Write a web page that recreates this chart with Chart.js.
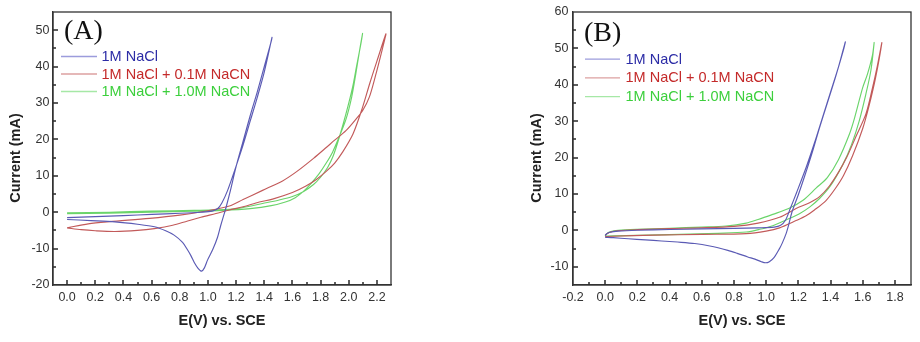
<!DOCTYPE html>
<html><head><meta charset="utf-8">
<script src="https://cdn.jsdelivr.net/npm/chart.js@4.4.0/dist/chart.umd.min.js"></script>
<style>
html,body{margin:0;padding:0;background:#fff;}
#wrap{position:relative;width:920px;height:342px;overflow:hidden;background:#fff;}
#ca{position:absolute;left:0;top:0;}
#cb{position:absolute;left:460px;top:0;}
</style></head><body>
<div id="wrap"><canvas id="ca" width="460" height="342"></canvas><canvas id="cb" width="460" height="342"></canvas></div>
<script>
// ---------- series labels ----------
const SERIES_LABELS = ['1M NaCl', '1M NaCl + 0.1M NaCN', '1M NaCl + 1.0M NaCN'];

// ---------- Panel (A) : potential (V) and current (mA), forward then reverse scan ----------
const A_NACL_V = [0,0.1,0.2,0.4,0.6,0.8,0.95,1.03,1.07,1.1,1.14,1.19,1.25,1.3,1.35,1.4,1.455,
  1.45,1.4,1.35,1.3,1.25,1.2,1.16,1.13,1.116,1.09,1.069,1.035,0.998,0.975,0.955,0.93,0.903,0.88,0.856,0.82,0.76,0.7,0.62,0.5,0.34,0.17,0];
const A_NACL_I = [-1.5,-1.35,-1.2,-0.95,-0.6,-0.3,0.0,0.3,1.0,2.6,6.0,11.5,18.5,25,31.5,38.5,48,
  47,40,33,26.5,19.5,12.5,6.0,1.5,-0.4,-3.8,-6.8,-10.2,-13.1,-15.3,-16.2,-15.4,-13.8,-12.0,-10.4,-8.3,-6.3,-5.1,-4.0,-3.3,-2.65,-2.3,-2.0];

const A_CN01_V = [0,0.1,0.2,0.34,0.5,0.62,0.75,0.856,0.95,1.057,1.152,1.25,1.365,1.459,1.6,1.696,1.77,1.84,1.9,1.956,2.03,2.098,2.15,2.2,2.264,
  2.23,2.19,2.146,2.1,2.05,1.98,1.9,1.838,1.75,1.625,1.53,1.388,1.25,1.152,1.0,0.8,0.585,0.3,0.15,0];
const A_CN01_I = [-4.3,-4.8,-5.1,-5.3,-5.0,-4.5,-3.6,-2.4,-1.4,-0.36,0.6,1.5,2.8,3.6,5.4,7.2,9.0,11.2,13.5,16.5,21.5,28.8,35.5,41.5,49,
  43.5,37.5,31.6,28,25.5,22.4,19.8,17.7,14.8,11.0,8.6,6.0,3.5,1.7,0.4,-0.8,-1.7,-2.6,-3.2,-4.3];

const A_CN10_V = [0,0.3,0.6,0.9,1.1,1.3,1.45,1.55,1.62,1.68,1.73,1.79,1.84,1.885,1.93,1.98,2.02,2.05,2.075,2.098,
  2.085,2.055,2.027,1.98,1.933,1.89,1.85,1.8,1.75,1.68,1.6,1.5,1.388,1.25,1.152,0.9,0.6,0.3,0];
const A_CN10_I = [-0.4,-0.25,0.0,0.25,0.5,1.0,1.8,2.8,4.0,5.8,7.8,10.6,13.5,16.5,20.5,25.5,31.5,38,44,49.1,
  46,40,34.3,27.0,20.6,15.5,12.3,9.6,7.6,5.7,4.3,3.3,2.4,1.3,0.8,0.5,0.3,0.0,-0.2];

// ---------- Panel (B) ----------
const B_NACL_V = [0,0.01,0.03,0.08,0.2,0.4,0.6,0.8,0.95,1.05,1.09,1.12,1.15,1.19,1.25,1.3,1.35,1.4,1.45,1.492,
  1.48,1.43,1.38,1.33,1.289,1.24,1.2,1.16,1.14,1.124,1.1,1.083,1.05,1.02,0.996,0.97,0.93,0.886,0.82,0.762,0.65,0.556,0.45,0.35,0.25,0.143,0.05,0];
const B_NACL_I = [-1.4,-0.9,-0.5,-0.2,0.05,0.25,0.4,0.55,0.7,0.9,1.4,2.8,6.0,10.5,17.5,24,31,38,45,51.8,
  49.5,42,35,28,21.8,15,9.8,5,1.5,-0.9,-3.5,-5.0,-7.4,-8.6,-8.9,-8.6,-7.9,-7.3,-6.3,-5.5,-4.3,-3.6,-3.2,-2.9,-2.6,-2.3,-2.0,-1.9];

const B_CN01_V = [0,0.05,0.3,0.6,0.876,1.0,1.083,1.186,1.248,1.3,1.372,1.43,1.48,1.537,1.6,1.638,1.68,1.719,
  1.69,1.66,1.62,1.56,1.5,1.45,1.393,1.33,1.27,1.186,1.083,0.95,0.8,0.6,0.4,0.2,0.08,0.03,0];
const B_CN01_I = [-1.7,-1.6,-1.3,-1.1,-0.9,-0.2,0.7,2.7,4.0,5.6,8.2,11.5,15,20.5,28,34,42,51.6,
  45,39,32,26,20,16,12.2,9.2,7.6,6.0,3.6,2.0,1.1,0.7,0.5,0.2,-0.1,-0.5,-1.2];

const B_CN10_V = [0,0.05,0.2,0.463,0.7,0.876,0.96,1.041,1.12,1.207,1.27,1.33,1.4,1.475,1.53,1.578,1.62,1.651,1.671,
  1.66,1.63,1.599,1.55,1.517,1.45,1.38,1.31,1.227,1.14,1.041,0.95,0.876,0.75,0.6,0.4,0.2,0.08,0.03,0.01,0];
const B_CN10_I = [-1.6,-1.5,-1.35,-1.1,-0.8,-0.45,0.3,1.3,2.8,4.6,6.4,8.7,12.3,18,23.5,30,37.5,44,51.6,
  48,43,39.1,31,26.4,19.5,14.5,11.6,8.2,6.0,4.4,3.0,2.0,1.2,0.9,0.6,0.3,0.0,-0.4,-0.9,-1.6];

// ---------- tick labels ----------
const A_X_LABELS = [0.0,0.2,0.4,0.6,0.8,1.0,1.2,1.4,1.6,1.8,2.0,2.2];
const A_Y_LABELS = [-20,-10,0,10,20,30,40,50];
const B_X_LABELS = [-0.2,0.0,0.2,0.4,0.6,0.8,1.0,1.2,1.4,1.6,1.8];
const B_Y_LABELS = [-10,0,10,20,30,40,50,60];

const X_TITLE = 'E(V) vs. SCE';
const Y_TITLE = 'Current (mA)';

// ---------- styles ----------
const LINE_COLORS = ['#5a5ab4', '#c25a5a', '#6ad46a'];
const LEGEND_LINE_COLORS = ['#9c9cdc', '#dca0a0', '#a6e8a6'];
const LEGEND_TEXT_COLORS = ['#2c2ca6', '#c42a2a', '#3ccf3c'];
const SANS = "'Liberation Sans', Arial, sans-serif";
const SERIF = "'Liberation Serif', 'Times New Roman', serif";

function pts(v, i) { return v.map((x, k) => ({x: x, y: i[k]})); }
function tickList(min, max, step) {
  const out = []; const n = Math.round((max - min) / step);
  for (let k = 0; k <= n; k++) out.push(+(min + k * step).toFixed(4));
  return out;
}
function hasLabel(list, v) { return list.some(l => Math.abs(l - v) < 1e-6); }

// inward tick marks drawn from the library's scales (long at labelled values, short between)
function drawTicks(chart, xTicks, yTicks, xl, yl) {
  const ctx = chart.ctx, a = chart.chartArea;
  const xs = chart.scales.x, ys = chart.scales.y;
  ctx.save();
  ctx.fillStyle = '#1a1a1a';
  xTicks.forEach(v => {
    if (v <= xs.min + 1e-9 || v >= xs.max - 1e-9) return;
    const px = Math.round(xs.getPixelForValue(v));
    const len = hasLabel(xl, v) ? 5 : 3;
    ctx.fillRect(px - 0.7, a.bottom - len, 1.4, len);
  });
  yTicks.forEach(v => {
    if (v <= ys.min + 1e-9 || v >= ys.max - 1e-9) return;
    const py = Math.round(ys.getPixelForValue(v));
    const len = hasLabel(yl, v) ? 5 : 3;
    ctx.fillRect(a.left, py - 0.7, len, 1.4);
  });
  ctx.restore();
}

function drawDecor(chart, o) {
  const ctx = chart.ctx, a = chart.chartArea;
  ctx.save();
  ctx.strokeStyle = '#333'; ctx.lineWidth = 1.3;
  ctx.strokeRect(a.left, a.top, a.right - a.left, a.bottom - a.top);
  ctx.fillStyle = '#111'; ctx.font = o.tagFont; ctx.textAlign = 'left'; ctx.textBaseline = 'alphabetic';
  ctx.fillText(o.tag, o.tagX, o.tagY);
  chart.data.datasets.forEach((ds, i) => {
    const y = o.legY + i * o.legDy;
    ctx.strokeStyle = LEGEND_LINE_COLORS[i]; ctx.lineWidth = 1.3;
    ctx.beginPath(); ctx.moveTo(o.legX0, y); ctx.lineTo(o.legX1, y); ctx.stroke();
    ctx.fillStyle = LEGEND_TEXT_COLORS[i]; ctx.font = '14.5px ' + SANS; ctx.textBaseline = 'middle';
    ctx.fillText(ds.label, o.legTx, y + 0.5);
  });
  ctx.translate(o.ytX, o.ytY); ctx.rotate(-Math.PI / 2);
  ctx.fillStyle = '#222'; ctx.font = 'bold 14.5px ' + SANS; ctx.textAlign = 'center'; ctx.textBaseline = 'middle';
  ctx.fillText(Y_TITLE, 0, 0);
  ctx.restore();
}

function makePanel(id, cfg) {
  const W = 460, H = 342;
  const datasets = cfg.series.map((s, i) => ({
    label: SERIES_LABELS[i], data: pts(s[0], s[1]), showLine: true,
    borderColor: LINE_COLORS[i], backgroundColor: LINE_COLORS[i],
    borderWidth: 1.15, pointRadius: 0, tension: 0.3, fill: false
  }));
  const xTicks = tickList(cfg.xMin, cfg.xMax, 0.1);
  const yTicks = tickList(cfg.yMin, cfg.yMax, 5);
  return new Chart(document.getElementById(id), {
    type: 'scatter',
    data: {datasets: datasets},
    options: {
      responsive: false, animation: false, devicePixelRatio: 1, events: [],
      layout: {padding: {left: 0, top: cfg.area.top, right: W - cfg.area.right, bottom: 0}},
      plugins: {legend: {display: false}, tooltip: {enabled: false}},
      scales: {
        x: {
          type: 'linear', position: 'bottom', min: cfg.xMin, max: cfg.xMax,
          afterFit: s => { s.height = H - cfg.area.bottom; },
          afterBuildTicks: s => { s.ticks = xTicks.map(v => ({value: v})); },
          ticks: {autoSkip: false, maxRotation: 0, minRotation: 0, padding: 5, color: '#333',
            font: {family: SANS, size: 12.5},
            callback: v => hasLabel(cfg.xLabels, v) ? v.toFixed(1) : ''},
          grid: {display: false, drawTicks: false, tickLength: 0},
          border: {display: true, color: '#333', width: 1.3},
          title: {display: true, text: X_TITLE, color: '#222', font: {family: SANS, size: 14.5, weight: 'bold'},
            padding: {top: 0, bottom: 12}}
        },
        y: {
          type: 'linear', position: 'left', min: cfg.yMin, max: cfg.yMax,
          afterFit: s => { s.width = cfg.area.left; },
          afterBuildTicks: s => { s.ticks = yTicks.map(v => ({value: v})); },
          ticks: {autoSkip: false, padding: cfg.yPad, color: '#333', font: {family: SANS, size: 12.5},
            callback: v => hasLabel(cfg.yLabels, v) ? String(v) : ''},
          grid: {display: false, drawTicks: false, tickLength: 0},
          border: {display: true, color: '#333', width: 1.3},
          title: {display: false}
        }
      }
    },
    plugins: [{
      id: 'panelDecor',
      afterDraw(chart) {
        drawTicks(chart, xTicks, yTicks, cfg.xLabels, cfg.yLabels);
        drawDecor(chart, cfg.decor);
      }
    }]
  });
}

makePanel('ca', {
  series: [[A_NACL_V, A_NACL_I], [A_CN01_V, A_CN01_I], [A_CN10_V, A_CN10_I]],
  xMin: -0.1, xMax: 2.3, yMin: -20, yMax: 55,
  xLabels: A_X_LABELS, yLabels: A_Y_LABELS,
  area: {left: 53, right: 391, top: 12, bottom: 285}, yPad: 3.5,
  decor: {tag: '(A)', tagFont: '28px ' + SERIF, tagX: 64, tagY: 39,
    legY: 56.5, legDy: 17.5, legX0: 61, legX1: 97, legTx: 101.5, ytX: 15.5, ytY: 158}
});
makePanel('cb', {
  series: [[B_NACL_V, B_NACL_I], [B_CN01_V, B_CN01_I], [B_CN10_V, B_CN10_I]],
  xMin: -0.2, xMax: 1.9, yMin: -15, yMax: 60,
  xLabels: B_X_LABELS, yLabels: B_Y_LABELS,
  area: {left: 113, right: 451, top: 11, bottom: 285}, yPad: 4.5,
  decor: {tag: '(B)', tagFont: '28px ' + SERIF, tagX: 124, tagY: 41,
    legY: 59.2, legDy: 18.7, legX0: 125, legX1: 160, legTx: 165.5, ytX: 77, ytY: 158}
});
</script>
</body></html>
